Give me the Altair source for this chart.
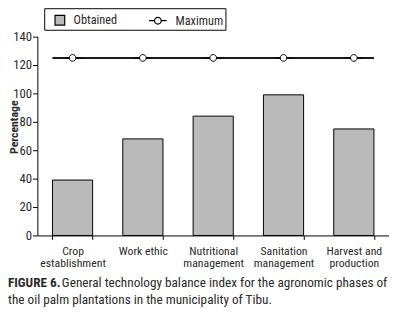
import altair as alt
import pandas as pd

categories = ["Crop establishment", "Work ethic", "Nutritional management",
              "Sanitation management", "Harvest and production"]
obtained = [39, 68, 84, 99, 75]
maximum = [125, 125, 125, 125, 125]
y_ticks = [0, 20, 40, 60, 80, 100, 120, 140]
series_names = ["Obtained", "Maximum"]
caption_bold = "FIGURE 6."
caption_line1 = "General technology balance index for the agronomic phases of"
caption_line2 = "the oil palm plantations in the municipality of Tibu."

FONT = "Roboto Condensed, Liberation Sans Narrow, Roboto, sans-serif"
TXT = "#2a2a2a"

bars_df = pd.DataFrame({"phase": categories, "value": obtained, "series": series_names[0]})
max_df = pd.DataFrame({"phase": categories, "value": maximum, "series": series_names[1]})
rule_df = pd.DataFrame({"start": [categories[0]], "end": [categories[-1]], "value": [maximum[0]]})

square_path = "M-0.11,-0.55H0.99V0.55H-0.11Z"
max_path = ("M-1,0H-0.38M0.38,0H1M0.38,0A0.38,0.38 0 1,1 -0.38,0"
            "A0.38,0.38 0 1,1 0.38,0Z")

fill_scale = alt.Scale(domain=series_names, range=["#bababa", "white"])
shape_scale = alt.Scale(domain=series_names, range=[square_path, max_path])

legend = alt.Legend(
    title=None, orient="none", legendX=7, legendY=-29, direction="horizontal",
    strokeColor="black", padding=2, symbolStrokeColor="black", symbolStrokeWidth=1.2,
    symbolSize=324, labelFont=FONT, labelFontSize=12.5, labelColor=TXT,
    columnPadding=29, labelOffset=8,
)

label_expr = ("datum.value == null ? '' : (datum.value == 'Work ethic' ? datum.value : "
              "(datum.value == 'Harvest and production' ? ['Harvest and', 'production'] : "
              "split(datum.value, ' ')))")

x_scale = alt.Scale(domain=categories, paddingInner=0.4286, paddingOuter=0.2143)
x_axis = alt.Axis(title=None, labelAngle=0, tickBand="extent", labelExpr=label_expr,
                  tickSize=4, labelPadding=6, labelFont=FONT, labelFontSize=12,
                  labelColor=TXT, labelLineHeight=13, domainColor="black",
                  tickColor="black", labelBaseline="top")
y_scale = alt.Scale(domain=[0, 140])
y_axis = alt.Axis(values=y_ticks, title="Percentage", grid=False, tickSize=5,
                  labelFont=FONT, labelFontSize=13, labelColor=TXT, labelPadding=1,
                  labelOverlap=False, domainColor="black", tickColor="black",
                  titleFont=FONT, titleFontSize=12, titleFontWeight="bold",
                  titleColor=TXT, titleX=-17, titleY=92)

bars = alt.Chart(bars_df).mark_bar(stroke="black", strokeWidth=1).encode(
    x=alt.X("phase:N", scale=x_scale, axis=x_axis),
    y=alt.Y("value:Q", scale=y_scale, axis=y_axis),
    fill=alt.Fill("series:N", scale=fill_scale, legend=legend),
)

rule = alt.Chart(rule_df).mark_rule(color="#1a1a1a", strokeWidth=2).encode(
    x=alt.X("start:N", scale=x_scale, axis=x_axis, bandPosition=0),
    x2=alt.X2("end", bandPosition=1),
    y=alt.Y("value:Q", scale=y_scale, axis=y_axis),
)

points = alt.Chart(max_df).mark_point(filled=True, opacity=1, size=324,
                                      stroke="black", strokeWidth=1).encode(
    x=alt.X("phase:N", scale=x_scale, axis=x_axis),
    y=alt.Y("value:Q", scale=y_scale, axis=y_axis),
    fill=alt.Fill("series:N", scale=fill_scale, legend=legend),
    shape=alt.Shape("series:N", scale=shape_scale, legend=legend),
)

cap_bold = alt.Chart(pd.DataFrame({"t": [caption_bold]})).mark_text(
    align="left", baseline="middle", font=FONT, fontSize=13.5, fontWeight="bold", color=TXT
).encode(x=alt.value(-30), y=alt.value(252), text="t:N")
cap1 = alt.Chart(pd.DataFrame({"t": [caption_line1]})).mark_text(
    align="left", baseline="middle", font=FONT, fontSize=13.5, color=TXT
).encode(x=alt.value(25), y=alt.value(252), text="t:N")
cap2 = alt.Chart(pd.DataFrame({"t": [caption_line2]})).mark_text(
    align="left", baseline="middle", font=FONT, fontSize=13.5, color=TXT
).encode(x=alt.value(-30), y=alt.value(269), text="t:N")

chart = alt.layer(bars, rule, points, cap_bold, cap1, cap2).properties(
    width=359, height=203,
    autosize=alt.AutoSizeParams(type="none"),
    padding={"left": 30, "top": 26, "right": 0, "bottom": 78},
).configure_view(stroke=None)

chart.save("out.html", embed_options={"renderer": "svg", "actions": False})
